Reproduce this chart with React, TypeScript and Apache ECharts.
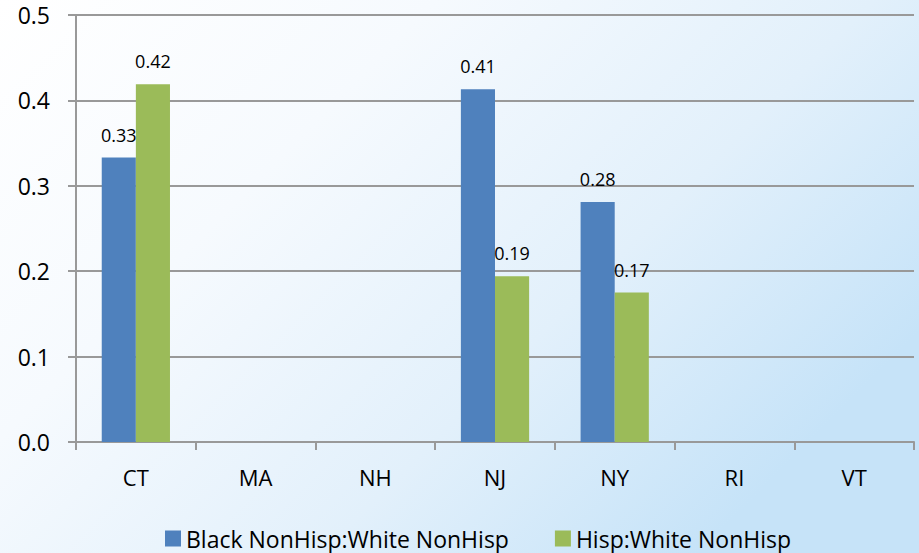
import React, { useEffect, useRef } from "react";
import * as echarts from "echarts";

const categories = ["CT", "MA", "NH", "NJ", "NY", "RI", "VT"];
const blackRatio = [0.333, null, null, 0.413, 0.281, null, null];
const hispRatio = [0.419, null, null, 0.194, 0.175, null, null];
const seriesNames = ["Black NonHisp:White NonHisp", "Hisp:White NonHisp"];

const FONT = "'Open Sans', sans-serif";

export default function App() {
  const ref = useRef<HTMLDivElement>(null);
  useEffect(() => {
    if (!ref.current) return;
    const chart = echarts.init(ref.current, null, { renderer: "svg" });
    const labelCfg = {
      show: true,
      position: "top",
      distance: 14,
      color: "#000",
      fontSize: 18,
      fontFamily: FONT,
      formatter: (p: any) => (p.value == null ? "" : Number(p.value).toFixed(2)),
    };
    chart.setOption({
      animation: false,
      backgroundColor: {
        type: "linear",
        x: 0,
        y: 0,
        x2: 1,
        y2: 0.6,
        colorStops: [
          { offset: 0, color: "#ffffff" },
          { offset: 0.35, color: "#f6fafe" },
          { offset: 0.7, color: "#e2f0fb" },
          { offset: 1, color: "#c6e3f8" },
        ],
      },
      textStyle: { fontFamily: FONT },
      grid: { left: 76, right: 5, top: 15, bottom: 111, containLabel: false },
      legend: {
        bottom: -2,
        left: 160,
        itemWidth: 16,
        itemHeight: 16,
        itemGap: 46,
        icon: "rect",
        textStyle: { fontSize: 23, color: "#000", fontFamily: FONT },
        data: seriesNames,
      },
      xAxis: {
        type: "category",
        data: categories,
        axisLine: { lineStyle: { color: "#999", width: 2 } },
        axisTick: { show: true, length: 8, lineStyle: { color: "#999", width: 2 } },
        axisLabel: { fontSize: 22, color: "#000", margin: 24, fontFamily: FONT },
      },
      yAxis: {
        type: "value",
        min: 0,
        max: 0.5,
        interval: 0.1,
        axisLine: { show: true, lineStyle: { color: "#999", width: 2 } },
        axisTick: { show: true, length: 8, lineStyle: { color: "#999", width: 2 } },
        axisLabel: {
          fontSize: 23,
          color: "#000",
          margin: 26,
          fontFamily: FONT,
          formatter: (v: number) => v.toFixed(1),
        },
        splitLine: { lineStyle: { color: "#999", width: 2 } },
      },
      series: [
        {
          name: seriesNames[0],
          type: "bar",
          data: blackRatio,
          itemStyle: { color: "#4f81bd" },
          barGap: "0%",
          barCategoryGap: "43%",
          label: labelCfg,
        },
        {
          name: seriesNames[1],
          type: "bar",
          data: hispRatio,
          itemStyle: { color: "#9bbb59" },
          barGap: "0%",
          barCategoryGap: "43%",
          label: labelCfg,
        },
      ],
    });
    return () => chart.dispose();
  }, []);
  return <div ref={ref} style={{ width: 919, height: 553, position: "absolute", left: 0, top: 0 }} />;
}
